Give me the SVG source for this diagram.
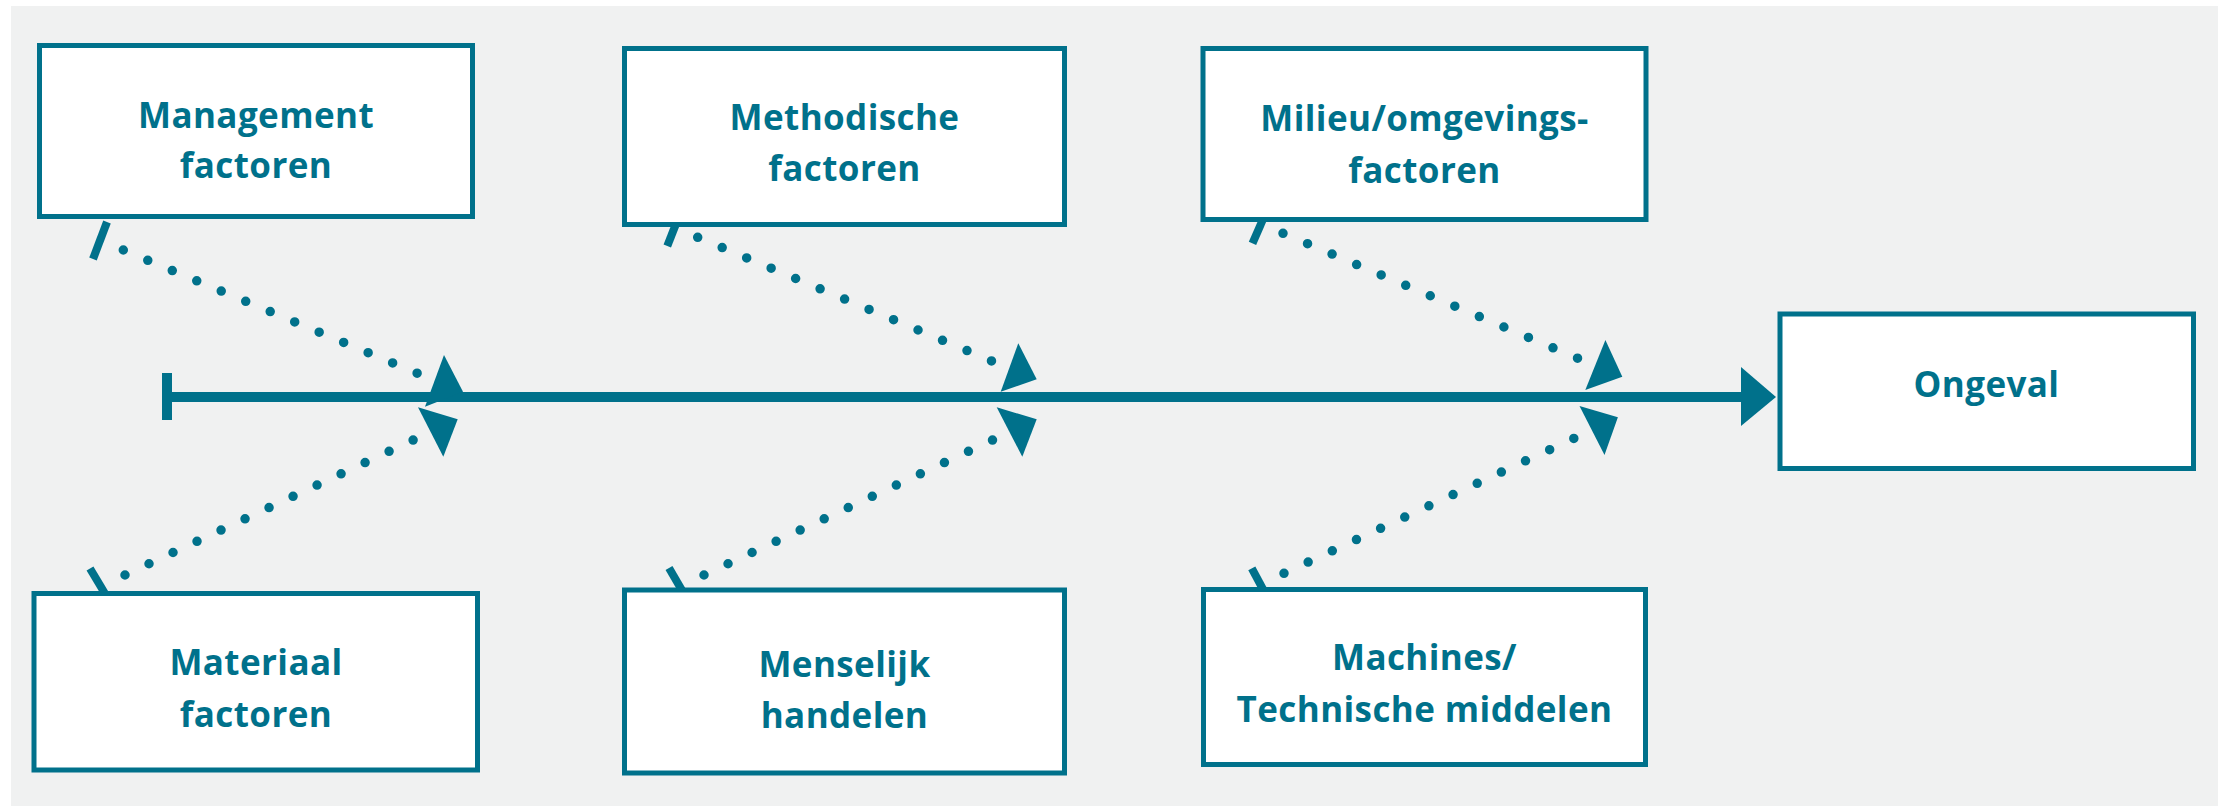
<svg xmlns="http://www.w3.org/2000/svg" width="2231" height="812" viewBox="0 0 2231 812">
<style>
.box{fill:#ffffff;stroke:#00718b;stroke-width:5}
.lbl{font-family:"Open Sans","Noto Sans","Liberation Sans",sans-serif;font-weight:700;font-size:35px;letter-spacing:0.4px;fill:#00718b;text-anchor:middle}
.dots{fill:none;stroke:#00718b;stroke-width:9.5;stroke-linecap:round}
.tick{stroke:#00718b;stroke-width:8;stroke-linecap:butt}
.head{fill:#00718b}
.spine{stroke:#00718b;stroke-width:10;fill:none}
</style>
<rect x="0" y="0" width="2231" height="812" fill="#ffffff"/>
<rect x="11" y="6" width="2207" height="800" fill="#f0f1f1"/>

<g id="connectors">
  <line class="spine" x1="167" y1="397" x2="1745" y2="397"/>
  <rect x="162" y="373" width="10" height="47" fill="#00718b"/>
  <polygon class="head" points="1741,367 1776,397 1741,426"/>

  <line class="tick" x1="107" y1="222" x2="93" y2="259"/>
  <path class="dots" d="M123.3,250 L417.3,373.3" stroke-dasharray="0 26.55"/>
  <polygon class="head" points="444,355 463,391.7 425,406.7"/>

  <line class="tick" x1="681.7" y1="209.3" x2="667.3" y2="246"/>
  <path class="dots" d="M697.7,237.3 L991.7,361" stroke-dasharray="0 26.56"/>
  <polygon class="head" points="1018.3,343.3 1036.7,379.3 1000.7,391.7"/>

  <line class="tick" x1="1268.5" y1="206.5" x2="1252.5" y2="243.3"/>
  <path class="dots" d="M1283,233.3 L1577.7,358.3" stroke-dasharray="0 26.66"/>
  <polygon class="head" points="1605.4,340 1622.3,376.7 1585.3,390"/>

  <line class="tick" x1="90" y1="568.5" x2="111.5" y2="604.5"/>
  <path class="dots" d="M125,575 L413.3,440" stroke-dasharray="0 26.51"/>
  <polygon class="head" points="418,407.3 457.7,419.3 443.3,456.7"/>

  <line class="tick" x1="669" y1="568" x2="690.5" y2="605"/>
  <path class="dots" d="M704,575 L992.7,440" stroke-dasharray="0 26.54"/>
  <polygon class="head" points="996.7,407.3 1036.7,419.3 1022.3,456.7"/>

  <line class="tick" x1="1251.8" y1="568.3" x2="1270.5" y2="603.3"/>
  <path class="dots" d="M1284,573.3 L1574,438.3" stroke-dasharray="0 26.64"/>
  <polygon class="head" points="1579.5,406 1617.9,417.3 1604.5,455"/>
</g>

<g id="management">
  <rect class="box" x="39.5" y="45.5" width="433" height="171"/>
  <text class="lbl" x="256" y="128">Management</text>
  <text class="lbl" x="256" y="178">factoren</text>
</g>
<g id="methodische">
  <rect class="box" x="624.5" y="48.5" width="440" height="176"/>
  <text class="lbl" x="844.5" y="130">Methodische</text>
  <text class="lbl" x="844.5" y="181">factoren</text>
</g>
<g id="milieu">
  <rect class="box" x="1203" y="48.5" width="443" height="171"/>
  <text class="lbl" x="1424.5" y="131">Milieu/omgevings-</text>
  <text class="lbl" x="1424.5" y="183">factoren</text>
</g>
<g id="ongeval">
  <rect class="box" x="1780" y="314" width="413.5" height="154.5"/>
  <text class="lbl" x="1986.5" y="397">Ongeval</text>
</g>
<g id="materiaal">
  <rect class="box" x="34" y="593.5" width="443.5" height="176.5"/>
  <text class="lbl" x="256" y="675">Materiaal</text>
  <text class="lbl" x="256" y="727">factoren</text>
</g>
<g id="menselijk">
  <rect class="box" x="624.5" y="590" width="440" height="183"/>
  <text class="lbl" x="844.5" y="677">Menselijk</text>
  <text class="lbl" x="844.5" y="728">handelen</text>
</g>
<g id="machines">
  <rect class="box" x="1203.5" y="589.5" width="442" height="175"/>
  <text class="lbl" x="1424.5" y="670">Machines/</text>
  <text class="lbl" x="1424.5" y="722">Technische middelen</text>
</g>
</svg>
